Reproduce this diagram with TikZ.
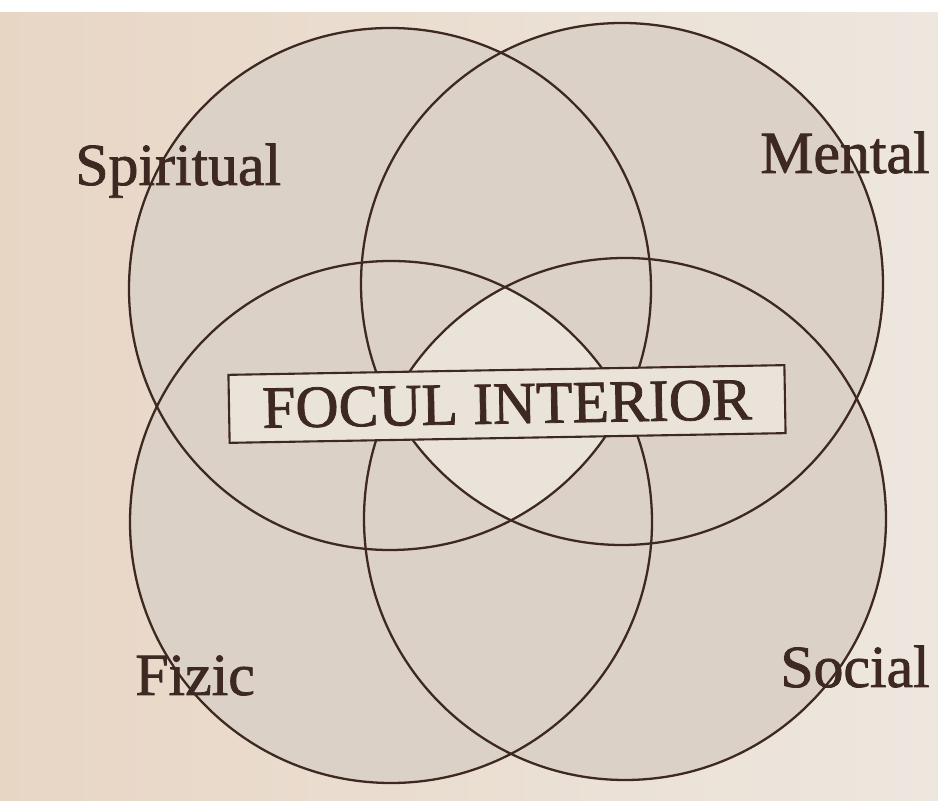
\documentclass[tikz,border=0pt]{standalone}
\usepackage{fontspec}
\setmainfont{Liberation Serif}
\newfontfamily\heavy{Liberation Serif}[FakeBold=1.3]
\definecolor{paperL}{RGB}{232,214,197}
\definecolor{paperR}{RGB}{237,231,223}
\definecolor{tint}{RGB}{219,209,198}
\definecolor{pale}{RGB}{234,227,218}
\definecolor{ink}{RGB}{62,40,34}
\tikzset{ring/.style={draw=ink,line width=1.3pt},
  lbl/.style={text=ink,font=\heavy\fontsize{34}{40}\selectfont,anchor=base west,inner sep=0pt}}
\begin{document}
\begin{tikzpicture}
\useasboundingbox (0,0) rectangle (18.76,16.02);
\shade[left color=paperL,right color=paperR] (0,0) rectangle (18.76,16.02);
\fill[white] (0,15.78) rectangle (18.76,16.02);
\coordinate (TL) at (7.80,10.24); \coordinate (TR) at (12.44,10.34); \coordinate (BL) at (7.82,5.58); \coordinate (BR) at (12.50,5.64);
\foreach \c in {TL,TR,BL,BR} \fill[tint] (\c) circle (5.22);
\begin{scope}
\clip (TL) circle (5.22); \clip (TR) circle (5.22); \clip (BL) circle (5.22);
\fill[pale] (BR) circle (5.22);
\end{scope}
\foreach \c in {TL,TR,BL,BR} \draw[ring] (\c) circle (5.22);
\node[draw=ink,line width=1.2pt,fill=pale,minimum width=11.12cm,minimum height=1.36cm,inner sep=0pt,rotate=1,text=ink,font=\heavy\fontsize{34}{40}\selectfont] (focus) at (10.14,7.94) {FOCUL INTERIOR};
\node[lbl] (spir) at (1.50,12.32) {Spiritual};
\node[lbl] (ment) at (15.20,12.56) {Mental};
\node[lbl] (fiz) at (2.70,2.12) {Fizic};
\node[lbl] (soc) at (15.60,2.28) {Social};
\end{tikzpicture}
\end{document}
